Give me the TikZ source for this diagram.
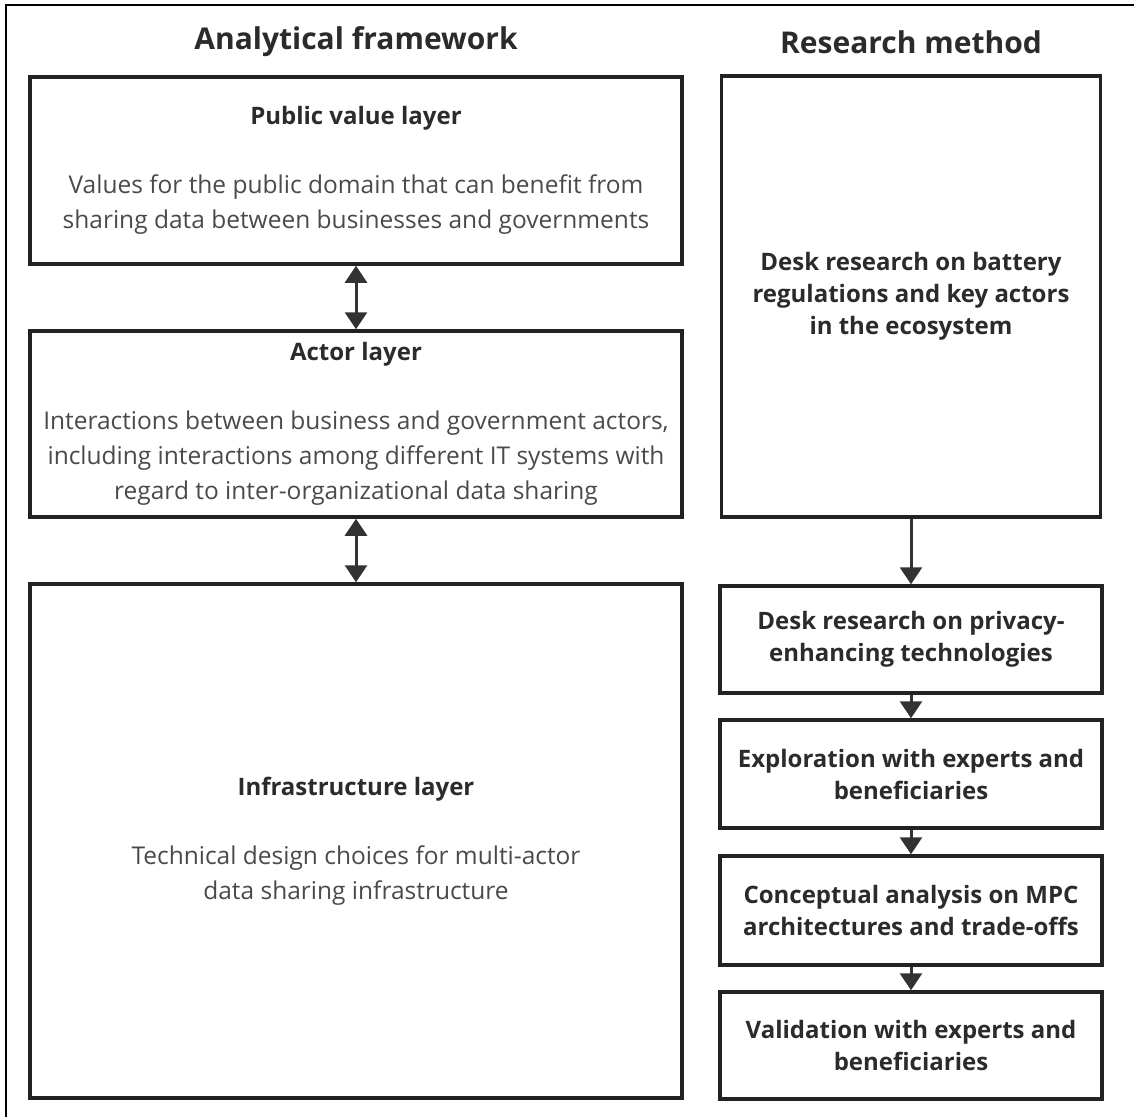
\documentclass[tikz,border=0pt]{standalone}
\usepackage{fontspec}
\setmainfont{Open Sans}
\usetikzlibrary{arrows.meta}
\definecolor{boxline}{HTML}{222222}
\definecolor{ttl}{HTML}{2B2B2B}
\definecolor{bodytxt}{HTML}{4A4A4A}
\definecolor{arr}{HTML}{333333}
\newcommand{\ltitle}[1]{{\fontsize{24}{30}\selectfont\bfseries\color{ttl}#1}}
\begin{document}
\begin{tikzpicture}[x=1pt,y=-1pt,
  layerbox/.style={draw=boxline, line width=3.5pt, align=center, inner sep=0pt,
    minimum width=652pt, text=bodytxt, font=\fontsize{24.5}{35}\selectfont},
  stepbox/.style={draw=boxline, line width=3.5pt, align=center, inner sep=0pt,
    minimum width=382pt, text=ttl, font=\fontsize{24}{32}\selectfont\bfseries},
  heading/.style={text=ttl, font=\fontsize{30}{36}\selectfont\bfseries, inner sep=0pt},
  flow/.style={draw=arr, line width=3pt, -{Triangle[width=22pt,length=17pt]}},
  both/.style={draw=arr, line width=3pt, {Triangle[width=22pt,length=17pt]}-{Triangle[width=22pt,length=17pt]}}
]
\useasboundingbox (0,0) rectangle (1134,1117);
\draw[line width=2pt, black] (6,1117) -- (6,5) -- (1134,5);

\node[heading] (h1) at (356,42) {Analytical framework};
\node[heading] (h2) at (911,42) {Research method};

\node[layerbox, minimum height=187pt] (pv) at (356,170.5)
  {\ltitle{Public value layer}\\[34pt]
   Values for the public domain that can benefit from\\
   sharing data between businesses and governments};
\node[layerbox, minimum height=186pt] (actor) at (356,424)
  {\ltitle{Actor layer}\\[34pt]
   Interactions between business and government actors,\\
   including interactions among different IT systems with\\
   regard to inter-organizational data sharing};
\node[layerbox, minimum height=514pt] (infra) at (356,841)
  {\ltitle{Infrastructure layer}\\[34pt]
   Technical design choices for multi-actor\\
   data sharing infrastructure};

\node[stepbox, minimum width=379pt, minimum height=441pt] (desk1) at (911,296.5)
  {Desk research on battery\\ regulations and key actors\\ in the ecosystem};
\node[stepbox, minimum height=107pt] (desk2) at (911,639.5)
  {Desk research on privacy-\\ enhancing technologies};
\node[stepbox, minimum height=108pt] (expl) at (911,774)
  {Exploration with experts and\\ beneficiaries};
\node[stepbox, minimum height=109pt] (conc) at (911,910.5)
  {Conceptual analysis on MPC\\ architectures and trade-offs};
\node[stepbox, minimum height=107pt] (valid) at (911,1045.5)
  {Validation with experts and\\ beneficiaries};

\draw[both] (pv.south) -- (actor.north);
\draw[both] (actor.south) -- (infra.north);
\draw[flow] (desk1.south) -- (desk2.north);
\draw[flow] (desk2.south) -- (expl.north);
\draw[flow] (expl.south) -- (conc.north);
\draw[flow] (conc.south) -- (valid.north);
\end{tikzpicture}
\end{document}
